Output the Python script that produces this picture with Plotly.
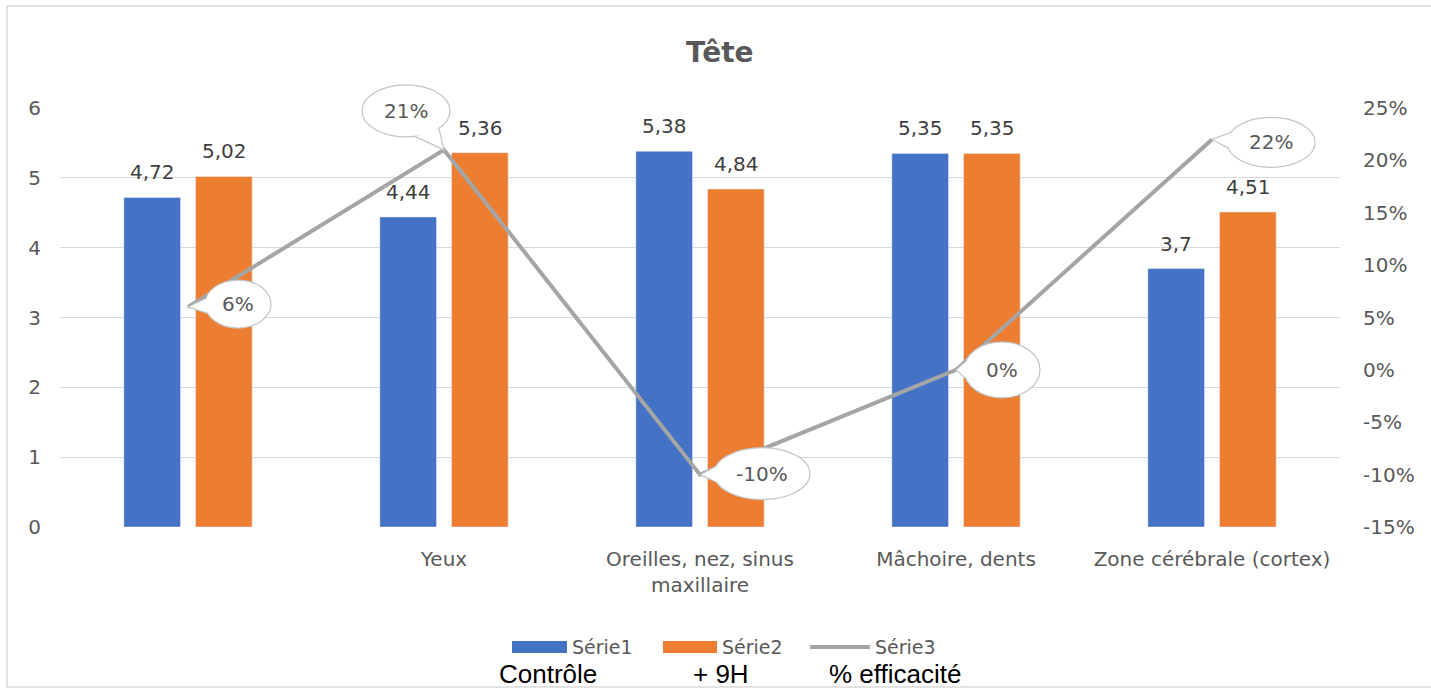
import numpy as np
import plotly.graph_objects as go

# ---------------- data ----------------
categories = ["", "Yeux", "Oreilles, nez, sinus<br>maxillaire", "Mâchoire, dents", "Zone cérébrale (cortex)"]
serie1 = [4.72, 4.44, 5.38, 5.35, 3.70]   # Contrôle
serie2 = [5.02, 5.36, 4.84, 5.35, 4.51]   # + 9H
serie3 = [0.06, 0.21, -0.10, 0.00, 0.22]  # % efficacité
series_names = ["Série1", "Série2", "Série3"]
sub_labels = ["Contrôle", "+ 9H", "% efficacité"]
left_ticks = [0, 1, 2, 3, 4, 5, 6]
right_ticks = [-0.15, -0.10, -0.05, 0.0, 0.05, 0.10, 0.15, 0.20, 0.25]

# ---------------- styles ----------------
W, H = 1431, 689
ML, MR, MT, MB = 60, 91, 108, 162
BLUE, ORANGE, GREY = "#4472c4", "#ed7d31", "#a5a5a5"
TXT = "#595959"
FONT = "DejaVu Sans"
Y1 = (0, 6)
Y2 = (-0.15, 0.25)
XR = (-0.5, len(categories) - 0.5)
# callout bubble geometry (pixel offsets from the point: dx, dy, rx, ry)
bubble_geom = [(50, 3, 33, 24), (-38, 39, 44, 26), (62, 1, 48, 26), (46, 0, 38, 28), (59, -3, 44, 25)]
BAR_SHIFT = 36
LABEL_LIFT = 25

plot_w = W - ML - MR
plot_h = H - MT - MB


def fr(v):
    return f"{v:.2f}".rstrip("0").rstrip(".").replace(".", ",")


def px_x(p):   # page pixel -> paper x
    return (p - ML) / plot_w


def px_y(p):   # page pixel -> paper y
    return (MT + plot_h - p) / plot_h


xs = list(range(len(categories)))

fig = go.Figure()
fig.add_trace(go.Bar(x=xs, y=serie1, name=series_names[0], marker_color=BLUE, yaxis="y", showlegend=False))
fig.add_trace(go.Bar(x=xs, y=serie2, name=series_names[1], marker_color=ORANGE, yaxis="y", showlegend=False))
fig.add_trace(go.Scatter(x=xs, y=serie3, name=series_names[2], mode="lines",
                         line=dict(color=GREY, width=4), yaxis="y2", showlegend=False))

annotations = []
shapes = []
# bar value labels
for i in xs:
    for vals, sh in ((serie1, -BAR_SHIFT), (serie2, BAR_SHIFT)):
        annotations.append(dict(x=i, y=vals[i], xref="x", yref="y", text=fr(vals[i]),
                                showarrow=False, xshift=sh, yshift=LABEL_LIFT,
                                font=dict(family=FONT, size=20, color="#404040")))

# callouts for serie3 (anchored on the data point through the axis ranges, not clipped)
for i in xs:
    dx, dy, rx, ry = bubble_geom[i]
    ax_p = (i - XR[0]) / (XR[1] - XR[0])
    ay_p = (serie3[i] - Y2[0]) / (Y2[1] - Y2[0])
    common = dict(xref="paper", yref="paper", xsizemode="pixel", ysizemode="pixel",
                  xanchor=ax_p, yanchor=ay_p, layer="above",
                  line=dict(color="#c4c4c4", width=1.2), fillcolor="white")
    shapes.append(dict(type="circle", x0=dx - rx, x1=dx + rx, y0=dy - ry, y1=dy + ry, **common))
    t0 = np.arctan2(-dy / ry, -dx / rx)
    pts = [(dx + rx * np.cos(t0 + s), dy + ry * np.sin(t0 + s)) for s in (-0.32, 0.32)]
    path = f"M{pts[0][0]:.1f},{pts[0][1]:.1f} L0,0 L{pts[1][0]:.1f},{pts[1][1]:.1f}"
    shapes.append(dict(type="path", path=path, **common))
    annotations.append(dict(x=i, y=serie3[i], xref="x", yref="y2", text=f"{serie3[i]*100:.0f}%",
                            showarrow=False, xshift=dx, yshift=dy,
                            font=dict(family=FONT, size=20, color=TXT)))

# custom legend (wide swatches like the original)
LEG_Y = 647
legend_items = [("bar", BLUE, 512, 567), ("bar", ORANGE, 663, 717), ("line", GREY, 810, 870)]
for (kind, col, a, b), name in zip(legend_items, series_names):
    if kind == "bar":
        shapes.append(dict(type="rect", xref="paper", yref="paper", x0=px_x(a), x1=px_x(b),
                           y0=px_y(LEG_Y + 6), y1=px_y(LEG_Y - 6), fillcolor=col, line=dict(width=0)))
    else:
        shapes.append(dict(type="line", xref="paper", yref="paper", x0=px_x(a), x1=px_x(b),
                           y0=px_y(LEG_Y), y1=px_y(LEG_Y), line=dict(color=col, width=4)))
    annotations.append(dict(x=px_x(b + 3), y=px_y(LEG_Y), xref="paper", yref="paper", text=name,
                            showarrow=False, xanchor="left", yanchor="middle",
                            font=dict(family=FONT, size=19, color=TXT)))

# sub labels under legend
for lbl, px in zip(sub_labels, (548, 721, 895)):
    annotations.append(dict(x=px_x(px), y=px_y(674), xref="paper", yref="paper",
                            text=lbl, showarrow=False, xanchor="center", yanchor="middle",
                            font=dict(family="Liberation Sans", size=26, color="#000000")))

# outer chart frame
shapes.append(dict(type="rect", xref="paper", yref="paper", layer="below",
                   x0=px_x(7), x1=px_x(1434), y0=px_y(687), y1=px_y(6),
                   line=dict(color="#d9d9d9", width=1.5), fillcolor="rgba(0,0,0,0)"))

fig.update_layout(
    width=W, height=H,
    margin=dict(l=ML, r=MR, t=MT, b=MB),
    paper_bgcolor="white", plot_bgcolor="white",
    font=dict(family=FONT, size=20, color=TXT),
    title=dict(text="<b>Tête</b>", x=0.503, xref="container", xanchor="center",
               y=1 - 52 / H, yref="container", yanchor="middle",
               font=dict(family=FONT, size=28, color=TXT)),
    barmode="group", bargap=0.44, bargroupgap=0.21,
    showlegend=False,
    xaxis=dict(tickmode="array", tickvals=xs, ticktext=categories, range=list(XR),
               showgrid=False, zeroline=False, showline=False, ticks="",
               ticklabelstandoff=18, tickfont=dict(size=20, color=TXT)),
    yaxis=dict(range=list(Y1), tickmode="array", tickvals=left_ticks, showgrid=True,
               gridcolor="#d9d9d9", gridwidth=1, zeroline=False, showline=False, ticks="",
               ticklabelstandoff=18, tickfont=dict(size=20, color=TXT)),
    yaxis2=dict(range=list(Y2), overlaying="y", side="right", tickmode="array",
                tickvals=right_ticks, ticktext=[f"{round(v*100)}%" for v in right_ticks],
                showgrid=False, zeroline=False, showline=False, ticks="",
                ticklabelstandoff=22, tickfont=dict(size=20, color=TXT)),
    annotations=annotations, shapes=shapes,
)

fig.write_html("out.html", config={"displayModeBar": False},
               post_script="document.body.style.margin='0';document.body.style.overflow='hidden';")
